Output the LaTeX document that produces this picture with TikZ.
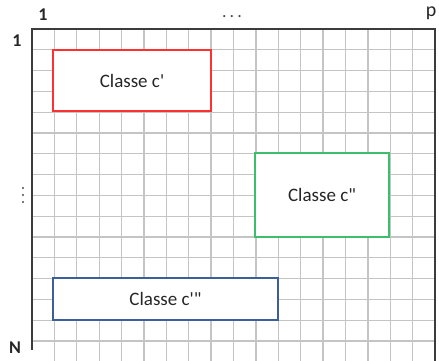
\documentclass[tikz,border=0pt]{standalone}
\usepackage{fontspec}
\setmainfont{Carlito}[Ligatures=TeXOff]
\definecolor{gridgray}{HTML}{C4C4C4}
\definecolor{framegray}{HTML}{3C3C3C}
\definecolor{classred}{HTML}{FF3030}
\definecolor{classgreen}{HTML}{3DBE6C}
\definecolor{classblue}{HTML}{3C5F9C}
\begin{document}
\begin{tikzpicture}[x=1pt,y=-1pt,
  gridline/.style={gridgray, line width=1.3pt},
  frameline/.style={framegray, line width=1.8pt},
  classbox/.style={draw, line width=2pt, fill=white, inner sep=0pt,
    font=\fontsize{19}{23}\selectfont, text=black!85},
  axislabel/.style={font=\bfseries\fontsize{18}{21}\selectfont, text=black!85, inner sep=0pt},
  dotmark/.style={fill=black!70, draw=none}]
\useasboundingbox (0,0) rectangle (439,361);
% matrix cells
\begin{scope}
  \clip (0,0) rectangle (439,361);
  \foreach \i in {1,...,17}
    \draw[gridline] ({32+22.39*\i},29) -- ({32+22.39*\i},361);
  \foreach \j in {1,...,16}
    \draw[gridline] (32,{29+20.8*\j}) -- (435,{29+20.8*\j});
\end{scope}
% matrix frame
\draw[frameline] (32,350) -- (32,29) -- (435,29) -- (435,361);
% class blocks
\node[classbox, draw=classred, minimum width=158pt, minimum height=61pt] (cone) at (132,80.5) {Classe c'};
\node[classbox, draw=classgreen, minimum width=134pt, minimum height=84pt] (ctwo) at (322,195) {Classe c"};
\node[classbox, draw=classblue, minimum width=225pt, minimum height=42pt] (cthree) at (165.5,299) {Classe c'"};
% indices
\node[axislabel] (colfirst) at (43,15) {1};
\node[axislabel, font=\fontsize{18}{21}\selectfont, text=black!70] (coldots) at (232,17) {.\,.\,.};
\node[axislabel, font=\fontsize{20}{23}\selectfont] (collast) at (431,13) {p};
\node[axislabel] (rowfirst) at (17,41) {1};
\node[axislabel] (rowlast) at (15,348) {N};
% vertical ellipsis for the rows
\foreach \k in {188,195,202}
  \fill[dotmark] (23,\k) circle (1.1pt);
\end{tikzpicture}
\end{document}
